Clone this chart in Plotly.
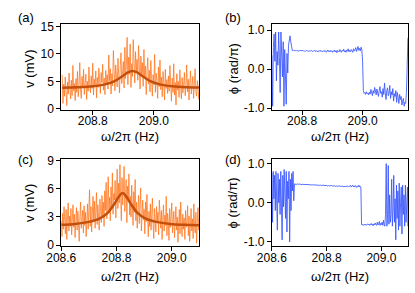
import numpy as np
import plotly.graph_objects as go

# ---------------- data ----------------
# panel (a): amplitude, sweep 208.700 .. 209.150 Hz, step 0.0025
a_f0, a_df = 208.700, 0.0025
a_amp = [6.2, 1.0, 4.5, 2.3, 5.8, 3.1, 0.6, 4.9, 2.7, 6.5, 3.6, 1.8, 5.2, 2.4, 7.9, 3.3, 4.6, 1.5, 5.5, 3.0,
         6.8, 2.2, 4.0, 8.4, 3.5, 1.9, 5.9, 3.8, 7.2, 2.6, 4.7, 6.3, 1.7, 5.0, 3.2, 7.6, 4.4, 2.9, 6.0, 3.7,
         8.3, 2.5, 5.4, 4.1, 6.9, 2.0, 5.7, 3.9, 7.4, 4.3, 2.8, 6.6, 4.8, 8.1, 3.4, 5.6, 2.6, 7.0, 4.5, 6.2,
         3.6, 9.8, 5.1, 7.3, 2.7, 6.4, 4.2, 10.6, 5.3, 3.3, 8.0, 6.1, 4.0, 9.2, 5.8, 2.9, 7.7, 10.2, 4.6, 6.9,
         8.6, 3.8, 11.2, 5.5, 7.9, 13.0, 4.4, 9.4, 6.3, 11.8, 3.9, 8.2, 5.9, 12.6, 7.1, 4.7, 10.4, 6.6, 9.0, 5.2,
         11.5, 7.4, 3.6, 9.6, 6.0, 8.4, 4.1, 10.8, 5.6, 7.8, 2.6, 6.9, 9.3, 4.5, 7.0, 3.1, 8.8, 5.4, 2.3, 6.2,
         4.4, 9.9, 3.0, 6.5, 5.1, 1.9, 7.6, 4.0, 8.9, 3.5, 5.8, 2.2, 6.8, 4.6, 1.6, 7.2, 3.7, 5.3, 2.8, 6.0,
         3.2, 7.9, 4.3, 1.4, 5.6, 3.0, 8.2, 2.5, 4.8, 0.7, 6.4, 3.4, 5.0, 2.1, 7.1, 3.9, 1.8, 5.7, 2.9, 4.5,
         6.6, 2.4, 4.2, 8.0, 3.1, 5.4, 1.6, 4.7, 6.9, 2.7, 3.8, 5.9, 1.9, 4.4, 7.3, 3.2, 2.3, 5.1, 3.6, 1.7, 4.0]
a_fit_f = [208.70, 208.75, 208.80, 208.84, 208.87, 208.90, 208.915, 208.93, 208.945, 208.96,
           208.99, 209.02, 209.06, 209.11, 209.15]
a_fit_v = [3.84, 3.93, 4.11, 4.45, 5.01, 6.05, 6.64, 6.90, 6.64, 6.05, 5.01, 4.45, 4.11, 3.93, 3.86]

# panel (b): phase, sweep 208.700 .. 209.150 Hz, step 0.0025
b_f0, b_df = 208.700, 0.0025
b_phase = [0.35, -0.95, 0.55, 0.9, 0.2, 0.95, -0.3, 0.45, 0.1, 0.95, 0.3, -0.6, 0.95, 0.4, -0.2, 0.7, -0.95, 0.5, -0.6, -0.9,
           0.4, -0.1, 0.6, 0.75, 0.85, 0.7,
           0.50, 0.48, 0.47, 0.49, 0.47, 0.48, 0.46, 0.48, 0.47, 0.47,
           0.46, 0.48, 0.47, 0.46, 0.47, 0.48, 0.46, 0.47, 0.45, 0.47,
           0.48, 0.46, 0.47, 0.45, 0.47, 0.46, 0.48, 0.46, 0.45, 0.47,
           0.46, 0.48, 0.45, 0.47, 0.46, 0.44, 0.47, 0.46, 0.48, 0.45,
           0.47, 0.44, 0.46, 0.48, 0.45, 0.47, 0.43, 0.46, 0.49, 0.45,
           0.47, 0.44, 0.48, 0.46, 0.43, 0.47, 0.45, 0.49, 0.44, 0.47,
           0.42, 0.48, 0.46, 0.44, 0.50, 0.45, 0.43, 0.48, 0.46, 0.51,
           0.44, 0.47, 0.43, 0.49, 0.46, 0.52, 0.44, 0.48, 0.45, 0.50,
           0.47, 0.43, 0.52, 0.46, 0.49, 0.55, 0.45, 0.50, 0.58, 0.48,
           0.53, 0.47, 0.56, 0.50,
           0.2, -0.55,
           -0.62, -0.60, -0.65, -0.58, -0.63, -0.61, -0.66, -0.59, -0.64, -0.52,
           -0.60, -0.68, -0.55, -0.62, -0.47, -0.58, -0.66, -0.51, -0.63, -0.70,
           -0.55, -0.45, -0.62, -0.58, -0.72, -0.50, -0.65, -0.36, -0.60, -0.78,
           -0.55, -0.48, -0.68, -0.62, -0.42, -0.75, -0.58, -0.66, -0.50, -0.82,
           -0.63, -0.70, -0.55, -0.85, -0.60, -0.72, -0.88, -0.65, -0.78, -0.70,
           -0.92, -0.82, -0.75, -0.95, -0.85, -0.88, -0.60, 0.1, 0.8]

# panel (c): amplitude, sweep 208.600 .. 209.100 Hz, step 0.0025
c_f0, c_df = 208.600, 0.0025
c_amp = [2.6, 0.9, 3.4, 1.7, 4.1, 2.2, 1.2, 3.8, 0.6, 2.9, 4.5, 1.5, 3.1, 2.0, 3.9, 1.1, 2.7, 4.3, 1.9, 3.3,
         0.8, 2.5, 4.0, 1.6, 3.6, 2.3, 0.4, 3.0, 4.6, 1.8, 2.8, 3.7, 1.3, 4.2, 2.1, 3.5, 0.9, 2.6, 4.4, 1.7,
         3.2, 5.9, 2.0, 4.1, 1.4, 3.8, 5.2, 2.5, 4.7, 1.8, 3.4, 5.6, 2.2, 4.3, 3.0, 1.6, 4.9, 3.6, 2.4, 5.3,
         3.1, 4.6, 2.0, 5.8, 3.7, 6.7, 2.8, 4.4, 7.3, 3.5, 5.1, 2.6, 6.2, 4.0, 7.7, 3.3, 5.5, 4.8, 6.9, 2.9,
         5.6, 8.1, 3.9, 6.6, 4.5, 8.6, 5.0, 2.6, 7.2, 4.3, 6.0, 8.4, 3.6, 5.4, 7.0, 2.4, 6.3, 4.7, 7.6, 3.2,
         5.2, 3.0, 6.4, 4.1, 2.1, 5.7, 3.5, 7.0, 2.6, 4.6, 1.8, 3.9, 5.3, 2.3, 4.2, 6.1, 1.5, 3.4, 4.8, 2.7,
         3.8, 1.2, 4.6, 2.5, 5.4, 3.1, 0.9, 3.6, 2.0, 4.4, 1.6, 3.3, 5.0, 2.2, 0.7, 3.9, 2.8, 1.4, 4.1, 2.4,
         3.5, 1.1, 4.8, 2.6, 1.8, 3.7, 0.6, 2.9, 4.3, 1.5, 3.2, 2.1, 5.2, 1.0, 3.4, 2.5, 0.5, 3.9, 1.9, 2.8,
         4.5, 1.3, 2.7, 3.6, 0.8, 2.2, 4.1, 1.6, 3.0, 0.3, 2.5, 3.8, 1.2, 4.6, 2.0, 0.9, 3.3, 1.7, 2.9, 0.6,
         3.7, 1.9, 2.6, 4.2, 1.0, 3.1, 0.4, 2.3, 3.9, 1.5, 2.8, 0.7, 4.4, 2.0, 1.3, 3.5, 0.2, 2.4, 4.0, 1.6, 2.9]
c_fit_f = [208.60, 208.65, 208.70, 208.74, 208.77, 208.79, 208.808, 208.822, 208.836, 208.854,
           208.874, 208.904, 208.944, 208.994, 209.044, 209.10]
c_fit_v = [2.17, 2.26, 2.48, 2.85, 3.50, 4.30, 5.15, 5.55, 5.15, 4.30, 3.50, 2.85, 2.48, 2.26, 2.17, 2.12]

# panel (d): phase, sweep 208.600 .. 209.100 Hz, step 0.0025
d_f0, d_df = 208.600, 0.0025
d_phase = [0.75, -0.5, 0.8, 0.1, 0.7, -0.2, 0.8, 0.3, -0.7, 0.75, 0.0, 0.6, -0.3, 0.8, 0.2, -0.95, 0.7,
           -0.1, 0.85, 0.4, -0.4, 0.8, -0.75, 0.55, 0.1, 0.8, -1.0, 0.6, -0.2, 0.75, 0.3, 0.8, 0.05,
           0.48, 0.47, 0.48, 0.47, 0.48, 0.47, 0.47, 0.48, 0.47, 0.47,
           0.47, 0.46, 0.47, 0.47, 0.46, 0.47, 0.46, 0.47, 0.46, 0.46,
           0.47, 0.46, 0.46, 0.46, 0.45, 0.46, 0.46, 0.45, 0.46, 0.45,
           0.46, 0.45, 0.45, 0.46, 0.45, 0.45, 0.44, 0.45, 0.45, 0.44,
           0.45, 0.44, 0.45, 0.44, 0.44, 0.45, 0.44, 0.44, 0.43, 0.44,
           0.44, 0.43, 0.44, 0.43, 0.44, 0.43, 0.43, 0.44, 0.43, 0.43,
           0.42, 0.43, 0.43, 0.42, 0.43, 0.42, 0.43, 0.42, 0.42, 0.43,
           0.42, 0.42, 0.41, 0.42, 0.42, 0.41, 0.42, 0.41, 0.43, 0.41,
           0.42, 0.41, 0.44, 0.40, 0.42, 0.45, 0.41, 0.43, 0.40, 0.44,
           0.42, 0.39, 0.43, 0.41, 0.45, 0.40, 0.42, 0.38,
           -0.56, -0.57, -0.55, -0.58, -0.56, -0.57, -0.55, -0.58, -0.56, -0.54,
           -0.57, -0.55, -0.58, -0.56, -0.53, -0.57, -0.55, -0.59, -0.54, -0.57,
           -0.52, -0.56, -0.58, -0.50, -0.57, -0.55, -0.48, -0.58, -0.53, -0.56,
           -0.50, -0.58, -0.45, -0.56, -0.60,
           -0.3, 1.0, -0.6, -0.4, 0.95, -0.55, 0.2, -0.5, -0.3, 0.6, -0.6, -0.2, 0.7, -0.5, 0.1, -0.95,
           0.45, -0.4, 0.3, -0.7, 0.5, -0.6, 0.0, 0.4, -0.8, 0.45, -0.3, 0.2, -0.6, 0.45, -0.5, -0.1,
           0.4, -0.6, 0.2]

top_xticks = [208.8, 209.0]
bot_xticks = [208.6, 208.8, 209.0]
a_yticks = [0, 5, 10, 15]
c_yticks = [0, 3, 6, 9]
phase_ticks = [-1.0, 0.0, 1.0]
phase_labels = ["-1.0", "0.0", "1.0"]
panel_labels = ["(a)", "(b)", "(c)", "(d)"]

def sweep(f0, df, vals):
    return f0 + df * np.arange(len(vals))

# ---------------- figure ----------------
W, H = 415, 293
px = lambda x: x / W
py = lambda y: 1 - y / H

ORANGE = "rgba(255,115,25,0.75)"
FIT = "#c2500c"
BLUE = "rgba(55,85,255,0.85)"
FONT = "Liberation Sans, Arial, sans-serif"

fig = go.Figure()
fig.add_trace(go.Scatter(x=sweep(a_f0, a_df, a_amp), y=a_amp, mode="lines",
                         line=dict(color=ORANGE, width=1), xaxis="x", yaxis="y"))
fig.add_trace(go.Scatter(x=a_fit_f, y=a_fit_v, mode="lines", line=dict(color=FIT, width=2.5, shape="spline"),
                         xaxis="x", yaxis="y"))
fig.add_trace(go.Scatter(x=sweep(b_f0, b_df, b_phase), y=b_phase, mode="lines",
                         line=dict(color=BLUE, width=1), xaxis="x2", yaxis="y2"))
fig.add_trace(go.Scatter(x=sweep(c_f0, c_df, c_amp), y=c_amp, mode="lines",
                         line=dict(color=ORANGE, width=1), xaxis="x3", yaxis="y3"))
fig.add_trace(go.Scatter(x=c_fit_f, y=c_fit_v, mode="lines", line=dict(color=FIT, width=2.5, shape="spline"),
                         xaxis="x3", yaxis="y3"))
fig.add_trace(go.Scatter(x=sweep(d_f0, d_df, d_phase), y=d_phase, mode="lines",
                         line=dict(color=BLUE, width=1), xaxis="x4", yaxis="y4"))

xL = [px(48), px(191)]
xR = [px(266.5), px(408)]
yT = [py(110), py(20)]
yB = [py(251), py(160.5)]

axis_common = dict(showline=True, linecolor="black", linewidth=1, mirror=True, ticks="outside",
                   ticklen=4, tickcolor="black", tickwidth=1, showgrid=False, zeroline=False,
                   tickfont=dict(family=FONT, size=12, color="black"))

fig.update_layout(
    width=W, height=H, margin=dict(l=0, r=0, t=0, b=0),
    paper_bgcolor="white", plot_bgcolor="white", showlegend=False,
    font=dict(family=FONT, size=13, color="black"),
    xaxis=dict(domain=xL, anchor="y", range=[208.697, 209.148], tickvals=top_xticks,
               ticktext=["208.8", "209.0"], ticklabelstandoff=-5, **axis_common),
    yaxis=dict(domain=yT, anchor="x", range=[-0.3, 15.4], tickvals=a_yticks, **axis_common),
    xaxis2=dict(domain=xR, anchor="y2", range=[208.70, 209.151], tickvals=top_xticks,
                ticktext=["208.8", "209.0"], ticklabelstandoff=-5, **axis_common),
    yaxis2=dict(domain=yT, anchor="x2", range=[-1.06, 1.15], tickvals=phase_ticks,
                ticktext=phase_labels, **axis_common),
    xaxis3=dict(domain=xL, anchor="y3", range=[208.6, 209.099], tickvals=bot_xticks,
                ticktext=["208.6", "208.8", "209.0"], ticklabelstandoff=-3, **axis_common),
    yaxis3=dict(domain=yB, anchor="x3", range=[-0.07, 9.2], tickvals=c_yticks, **axis_common),
    xaxis4=dict(domain=xR, anchor="y4", range=[208.6, 209.098], tickvals=bot_xticks,
                ticktext=["208.6", "208.8", "209.0"], ticklabelstandoff=-3, **axis_common),
    yaxis4=dict(domain=yB, anchor="x4", range=[-1.1, 1.12], tickvals=phase_ticks,
                ticktext=phase_labels, **axis_common),
)

def ann(text, x, y, angle=0, size=13):
    fig.add_annotation(text=text, x=px(x), y=py(y), xref="paper", yref="paper", showarrow=False,
                       textangle=angle, font=dict(family=FONT, size=size, color="black"),
                       xanchor="center", yanchor="middle")

# panel labels
ann(panel_labels[0], 11, 13)
ann(panel_labels[1], 226, 13)
ann(panel_labels[2], 11, 161)
ann(panel_labels[3], 226, 161)
# axis titles
ann("v (mV)", 15, 66, angle=-90)
ann("ϕ (rad/π)", 226, 66, angle=-90)
ann("v (mV)", 15, 206, angle=-90)
ann("ϕ (rad/π)", 226, 206, angle=-90)
ann("ω/2π (Hz)", 119.5, 137)
ann("ω/2π (Hz)", 337, 137)
ann("ω/2π (Hz)", 119.5, 283)
ann("ω/2π (Hz)", 337, 283)

fig.write_html("out.html", config={"displayModeBar": False},
               post_script="document.body.style.margin='0';document.body.style.overflow='hidden';")
